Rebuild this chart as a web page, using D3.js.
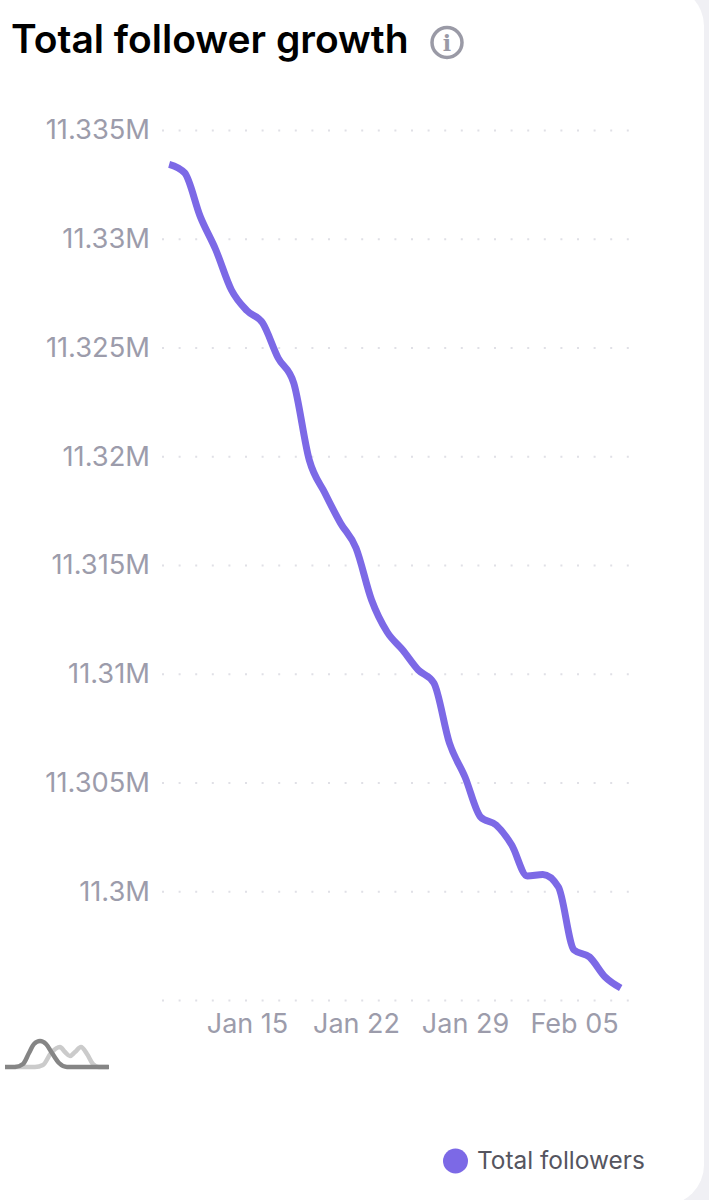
<!DOCTYPE html>
<html>
<head>
<meta charset="utf-8">
<script src="https://cdn.jsdelivr.net/npm/d3@7"></script>
<style>
html, body { margin: 0; padding: 0; background: #f0f0f4; }
svg.main { display: block; font-family: Inter, sans-serif; }
.axis path { display: none; }
.axis text { fill: #9c9cab; font-family: Inter, sans-serif; }
.ygrid text { font-size: 27.3px; }
.xaxis text { font-size: 27px; }
.ygrid line { stroke: #e0e0e6; stroke-width: 2; stroke-dasharray: 2 14.6; }
</style>
</head>
<body>
<script>
var startDate = "2023-01-10";
var followers = [
    11333425, 11333025, 11331016, 11329483, 11327644, 11326692,
    11326130, 11324517, 11323368, 11319828, 11318310, 11316932,
    11315782, 11313391, 11311919, 11311092, 11310172, 11309575,
    11306816, 11305253, 11303414, 11303046, 11302126, 11300701,
    11300770, 11300195, 11297299, 11296977, 11296057, 11295552
];
var yTicks = [11335000, 11330000, 11325000, 11320000, 11315000, 11310000, 11305000, 11300000, 11295000];
var yLabels = ["11.335M", "11.33M", "11.325M", "11.32M", "11.315M", "11.31M", "11.305M", "11.3M", ""];
var xTicks = ["2023-01-15", "2023-01-22", "2023-01-29", "2023-02-05"];
var xLabels = ["Jan 15", "Jan 22", "Jan 29", "Feb 05"];
var seriesName = "Total followers";
var title = "Total follower growth";

// the little peaks logo, bottom left
var logoBack = [[10, 0], [30, 0], [38, -2], [46, -14], [55, -20], [60, -15], [65, -11], [70, -15], [76, -20], [82, -13], [88, -3], [94, 0], [103, 0]];
var logoFront = [[0, 0], [10, 0], [18, -3], [24, -14], [29, -23], [35, -26], [41, -23], [47, -14], [54, -4], [62, 0], [104, 0]];

var w = 709, h = 1200;
var day = 86400000;
var t0 = new Date(startDate + "T00:00:00Z");
var dates = followers.map(function (v, i) { return new Date(t0.getTime() + i * day); });

var svg = d3.select("body").append("svg")
    .attr("class", "main")
    .attr("width", w)
    .attr("height", h);

// white card with rounded corners, only the right side shows
svg.append("rect")
    .attr("x", -60)
    .attr("y", -14)
    .attr("width", 764)
    .attr("height", 1219)
    .attr("rx", 40)
    .attr("fill", "#fff");

var x = d3.scaleUtc()
    .domain([new Date("2023-01-15T00:00:00Z"), new Date("2023-02-05T00:00:00Z")])
    .range([247, 574]);
var y = d3.scaleLinear()
    .domain([11295000, 11335000])
    .range([1000, 130]);

svg.append("g")
    .attr("class", "axis ygrid")
    .attr("transform", "translate(162,0)")
    .call(d3.axisLeft(y)
        .tickValues(yTicks)
        .tickSize(-470)
        .tickPadding(12)
        .tickFormat(function (d, i) { return yLabels[i]; }));

svg.append("g")
    .attr("class", "axis xaxis")
    .attr("transform", "translate(0,1000)")
    .call(d3.axisBottom(x)
        .tickValues(xTicks.map(function (d) { return new Date(d + "T00:00:00Z"); }))
        .tickSize(0)
        .tickPadding(14)
        .tickFormat(function (d, i) { return xLabels[i]; }));

var line = d3.line()
    .x(function (d, i) { return x(dates[i]); })
    .y(function (d) { return y(d); })
    .curve(d3.curveMonotoneX);

svg.append("path")
    .datum(followers)
    .attr("fill", "none")
    .attr("stroke", "#7c69e6")
    .attr("stroke-width", 7)
    .attr("d", line);

// header
svg.append("text")
    .attr("x", 11)
    .attr("y", 53)
    .attr("font-size", 39)
    .attr("font-weight", 600)
    .attr("fill", "#000")
    .text(title);

var info = svg.append("g").attr("transform", "translate(447,42.5)");
info.append("circle")
    .attr("r", 15)
    .attr("fill", "none")
    .attr("stroke", "#9a9aa6")
    .attr("stroke-width", 3.5);
info.append("text")
    .attr("text-anchor", "middle")
    .attr("y", 8)
    .attr("font-size", 22)
    .attr("font-family", "DejaVu Serif")
    .attr("font-weight", 700)
    .attr("fill", "#9a9aa6")
    .text("i");

// logo
var logoLine = d3.line().curve(d3.curveMonotoneX);
var logo = svg.append("g").attr("transform", "translate(5,1067)").attr("fill", "none").attr("stroke-width", 4.5);
logo.append("path").attr("stroke", "#cbcbcb").attr("d", logoLine(logoBack));
logo.append("path").attr("stroke", "#858585").attr("d", logoLine(logoFront));

// legend
svg.append("circle")
    .attr("cx", 455.5)
    .attr("cy", 1161)
    .attr("r", 12.5)
    .attr("fill", "#7c69e6");
svg.append("text")
    .attr("x", 477)
    .attr("y", 1169)
    .attr("font-size", 24.4)
    .attr("fill", "#55555f")
    .text(seriesName);
</script>
</body>
</html>
